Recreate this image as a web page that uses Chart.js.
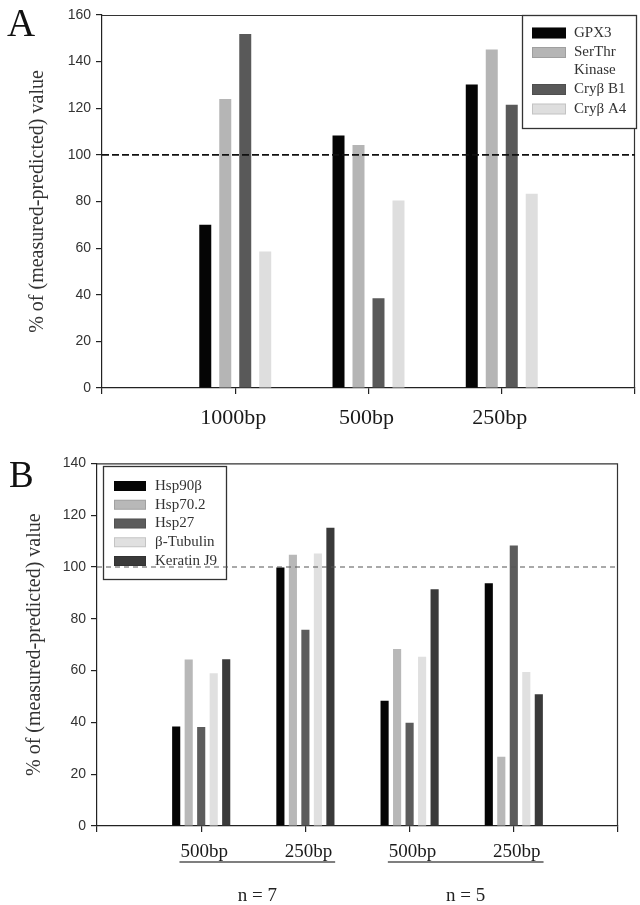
<!DOCTYPE html>
<html>
<head>
<meta charset="utf-8">
<script src="https://cdn.jsdelivr.net/npm/chart.js@4.4.1/dist/chart.umd.min.js"></script>
<style>
  html, body { margin: 0; padding: 0; background: #fff; }
  #wrap { position: relative; width: 640px; height: 905px; }
  #pa { position: absolute; left: 0; top: 0; }
  #pb { position: absolute; left: 0; top: 450px; }
</style>
</head>
<body>
<div id="wrap">
  <canvas id="pa" width="640" height="450"></canvas>
  <canvas id="pb" width="640" height="455"></canvas>
</div>
<script>
// ---------- Panel A data ----------
const catsA = ['', '1000bp', '500bp', '250bp', ''];
const seriesA = ['GPX3', 'SerThr Kinase', 'Cry\u03B2 B1', 'Cry\u03B2 A4'];
const gpx3     = [null, 70, 108.3, 130.2, null];
const serThr   = [null, 124, 104.2, 145.2, null];
const cryB1    = [null, 151.9, 38.5, 121.5, null];
const cryA4    = [null, 58.5, 80.4, 83.3, null];
const ticksA   = { min: 0, max: 160, step: 20 };

// ---------- Panel B data ----------
const catsB = ['', '500bp', '250bp', '500bp', '250bp', ''];
const seriesB = ['Hsp90\u03B2', 'Hsp70.2', 'Hsp27', '\u03B2-Tubulin', 'Keratin J9'];
const hsp90b   = [null, 38.4, 99.8, 48.4, 93.7, null];
const hsp702   = [null, 64.3, 104.7, 68.3, 26.7, null];
const hsp27    = [null, 38.2, 75.8, 39.9, 108.3, null];
const btub     = [null, 59, 105.2, 65.3, 59.5, null];
const keratin  = [null, 64.4, 115.2, 91.4, 50.9, null];
const ticksB   = { min: 0, max: 140, step: 20 };
const groupLabelsB = ['n = 7', 'n = 5'];
const groupSpansB  = [[1, 2], [3, 4]];

const refValue = 100;
const yTitle = '% of (measured-predicted) value';

const colorsA = ['#050505', '#b5b5b5', '#595959', '#dedede'];
const colorsB = ['#050505', '#b8b8b8', '#5c5c5c', '#e0e0e0', '#3a3a3a'];

const SERIF = "'Liberation Serif', 'Times New Roman', serif";
const SANS = "'Liberation Sans', Arial, sans-serif";

function wrapText(ctx, text, maxW) {
  const words = text.split(' ');
  const lines = [];
  let cur = '';
  words.forEach(w => {
    const t = cur ? cur + ' ' + w : w;
    if (ctx.measureText(t).width > maxW && cur) { lines.push(cur); cur = w; }
    else cur = t;
  });
  if (cur) lines.push(cur);
  return lines;
}

const decor = {
  id: 'decor',
  afterDatasetsDraw(chart, args, o) {
    const ctx = chart.ctx;
    const ca = chart.chartArea;
    const ys = chart.scales.y;
    ctx.save();
    // frame top/right
    ctx.strokeStyle = '#333';
    ctx.lineWidth = 1.2;
    ctx.beginPath();
    ctx.moveTo(ca.left, ca.top + 0.5);
    ctx.lineTo(ca.right - 0.5, ca.top + 0.5);
    ctx.lineTo(ca.right - 0.5, ca.bottom);
    ctx.stroke();

    // legend
    const L = o.legend;
    ctx.fillStyle = '#fff';
    ctx.fillRect(L.x, L.y, L.w, L.h);
    ctx.strokeStyle = '#333';
    ctx.lineWidth = 1.3;
    ctx.strokeRect(L.x + 0.5, L.y + 0.5, L.w, L.h);
    ctx.font = L.font;
    ctx.textBaseline = 'middle';
    ctx.textAlign = 'left';
    let y = L.firstY;
    chart.data.datasets.forEach(ds => {
      const lines = wrapText(ctx, ds.label, L.maxText);
      ctx.fillStyle = ds.backgroundColor;
      ctx.fillRect(L.swX, y - L.swH / 2, L.swW, L.swH);
      ctx.strokeStyle = 'rgba(0,0,0,0.12)';
      ctx.lineWidth = 1;
      ctx.strokeRect(L.swX + 0.5, y - L.swH / 2 + 0.5, L.swW - 1, L.swH - 1);
      ctx.fillStyle = '#333';
      lines.forEach((ln, i) => ctx.fillText(ln, L.textX, y + i * L.lineH));
      y += (lines.length - 1) * L.lineH + L.itemH;
    });

    // reference line
    const ry = ys.getPixelForValue(refValue);
    ctx.strokeStyle = o.ref.color;
    ctx.lineWidth = o.ref.width;
    ctx.setLineDash(o.ref.dash);
    ctx.beginPath();
    ctx.moveTo(ca.left, ry);
    ctx.lineTo(ca.right, ry);
    ctx.stroke();
    ctx.setLineDash([]);
    ctx.restore();
  },
  afterDraw(chart, args, o) {
    const ctx = chart.ctx;
    const xs = chart.scales.x;
    ctx.save();
    ctx.fillStyle = '#111';
    ctx.font = o.letterSize + 'px ' + SERIF;
    ctx.textBaseline = 'alphabetic';
    ctx.textAlign = 'left';
    ctx.fillText(o.letter, o.letterX, o.letterY);
    if (o.groups) {
      const g = o.groups;
      ctx.font = g.labelFont;
      g.spans.forEach((sp, i) => {
        const l0 = xs.getLabelForValue(sp[0]);
        const l1 = xs.getLabelForValue(sp[1]);
        const x0 = xs.getPixelForValue(sp[0]) + g.labelOffset - ctx.measureText(l0).width / 2 - 1;
        const x1 = xs.getPixelForValue(sp[1]) + g.labelOffset + ctx.measureText(l1).width / 2 + 3;
        ctx.strokeStyle = '#555';
        ctx.lineWidth = 1.5;
        ctx.beginPath();
        ctx.moveTo(x0, g.lineY);
        ctx.lineTo(x1, g.lineY);
        ctx.stroke();
        ctx.fillStyle = '#222';
        ctx.textAlign = 'center';
        ctx.fillText(g.labels[i], (x0 + x1) / 2, g.textY);
      });
    }
    ctx.restore();
  }
};

function makeChart(canvas, cats, names, values, colors, t, cfg) {
  return new Chart(canvas, {
    type: 'bar',
    data: {
      labels: cats,
      datasets: names.map((n, i) => ({
        label: n,
        data: values[i],
        backgroundColor: colors[i],
        borderWidth: 0,
        categoryPercentage: cfg.catPct,
        barPercentage: cfg.barPct
      }))
    },
    options: {
      responsive: false,
      animation: false,
      devicePixelRatio: 1,
      layout: { padding: { top: cfg.padTop, right: cfg.padRight, left: 0, bottom: 0 } },
      plugins: {
        legend: { display: false },
        tooltip: { enabled: false },
        decor: cfg.decor
      },
      scales: {
        x: {
          type: 'category',
          offset: false,
          grid: { display: true, offset: false, drawOnChartArea: false, drawTicks: true, tickLength: 6, color: '#222', lineWidth: 1.2 },
          border: { display: true, color: '#222', width: 1.2 },
          ticks: { font: { family: SERIF, size: cfg.xFont }, color: '#1a1a1a', padding: cfg.xPad, labelOffset: cfg.labelOffset, autoSkip: false, maxRotation: 0 },
          afterFit(s) { s.height = cfg.xHeight; s.paddingLeft = 0; s.paddingRight = 0; }
        },
        y: {
          min: t.min, max: t.max,
          grid: { display: true, drawOnChartArea: false, drawTicks: true, tickLength: 6, color: '#222', lineWidth: 1.2 },
          border: { display: true, color: '#222', width: 1.2 },
          ticks: { stepSize: t.step, font: { family: SANS, size: 14 }, color: '#333', padding: 5 },
          title: { display: true, text: yTitle, font: { family: SERIF, size: 20 }, color: '#333', padding: { top: cfg.titlePad, bottom: 0 } },
          afterFit(s) { s.width = cfg.yWidth; }
        }
      }
    },
    plugins: [decor]
  });
}

makeChart(document.getElementById('pa'), catsA, seriesA, [gpx3, serThr, cryB1, cryA4], colorsA, ticksA, {
  catPct: 0.6, barPct: 0.6, padTop: 15, padRight: 5, xHeight: 62, yWidth: 102, xFont: 22, xPad: 11, labelOffset: -2, titlePad: 26,
  decor: {
    letter: 'A', letterX: 7, letterY: 36, letterSize: 39,
    legend: { x: 522, y: 15, w: 114, h: 113, font: '15px ' + SERIF, firstY: 33, lineH: 17.5, itemH: 19.5, swX: 532, swW: 34, swH: 11, textX: 574, maxText: 58 },
    ref: { color: '#111', width: 1.8, dash: [7, 3] }
  }
});

makeChart(document.getElementById('pb'), catsB, seriesB, [hsp90b, hsp702, hsp27, btub, keratin], colorsB, ticksB, {
  catPct: 0.6, barPct: 0.65, padTop: 12, padRight: 22, xHeight: 79, yWidth: 97, xFont: 19, xPad: 9, labelOffset: 3, titlePad: 23,
  decor: {
    letter: 'B', letterX: 9, letterY: 37, letterSize: 37,
    legend: { x: 103, y: 16, w: 123, h: 113, font: '15px ' + SERIF, firstY: 36, lineH: 17, itemH: 18.75, swX: 114, swW: 32, swH: 10, textX: 155, maxText: 66 },
    ref: { color: '#555', width: 1.2, dash: [5, 4] },
    groups: { labels: groupLabelsB, spans: groupSpansB, labelFont: '19px ' + SERIF, labelOffset: 3, lineY: 412, textY: 451 }
  }
});
</script>
</body>
</html>
